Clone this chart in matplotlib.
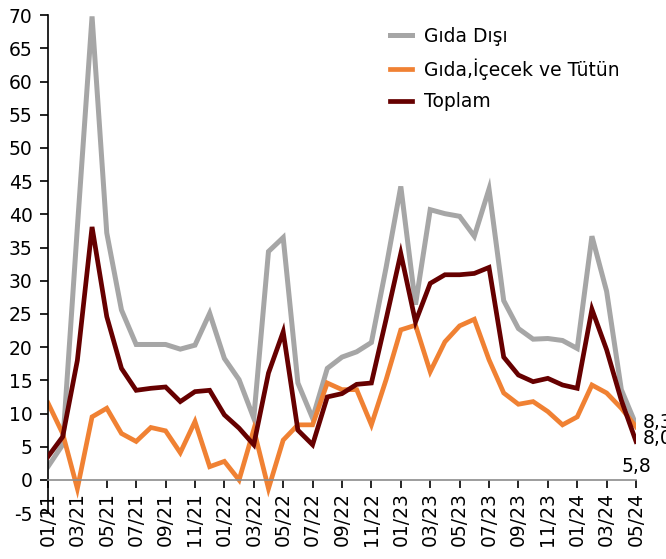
import numpy as np
import matplotlib
matplotlib.use("Agg")
import matplotlib.pyplot as plt

plt.rcParams['font.family'] = ['DejaVu Sans']
plt.rcParams['axes.unicode_minus'] = False

# aylar 01/21 - 05/24
months = [f"{m:02d}/{y}" for y in (21, 22, 23, 24) for m in range(1, 13)][:41]

gida_disi = [2.0, 5.3, 38.0, 69.8, 37.2, 25.6, 20.4, 20.4, 20.4, 19.7, 20.3, 25.1,
             18.3, 15.1, 9.3, 34.4, 36.5, 14.6, 9.3, 16.8, 18.5, 19.3, 20.7, 32.0,
             44.2, 26.4, 40.7, 40.1, 39.7, 36.7, 43.8, 27.0, 22.8, 21.2, 21.3, 21.0,
             19.8, 36.7, 28.4, 13.6, 8.3]
gida_icecek = [11.6, 7.0, -1.3, 9.5, 10.8, 7.0, 5.8, 7.9, 7.4, 4.1, 8.8, 2.0,
               2.8, 0.0, 7.6, -1.3, 6.0, 8.3, 8.3, 14.6, 13.6, 13.6, 8.3, 15.1,
               22.6, 23.3, 16.3, 20.8, 23.2, 24.2, 18.1, 13.1, 11.4, 11.8, 10.3, 8.3,
               9.5, 14.3, 13.1, 10.8, 8.0]
toplam = [3.5, 6.5, 18.0, 38.1, 24.6, 16.8, 13.5, 13.8, 14.0, 11.8, 13.3, 13.5,
          9.8, 7.8, 5.3, 16.1, 22.3, 7.5, 5.3, 12.5, 13.0, 14.4, 14.6, 24.2,
          34.1, 23.8, 29.6, 30.9, 30.9, 31.1, 32.0, 18.5, 15.8, 14.8, 15.3, 14.3,
          13.8, 25.7, 19.6, 12.0, 5.8]
end_labels = ["8,3", "8,0", "5,8"]

x = np.arange(len(months))

fig = plt.figure(figsize=(6.66, 5.59), dpi=100)
ax = fig.add_axes([0.072, 0.082, 0.883, 0.891])

ax.plot(x, gida_disi, color='#a6a6a6', lw=3.6, label='Gıda Dışı', solid_joinstyle='miter')
ax.plot(x, toplam, color='#660000', lw=3.4, label='Toplam', solid_joinstyle='miter', zorder=3)
ax.plot(x, gida_icecek, color='#f08133', lw=3.4, label='Gıda,İçecek ve Tütün',
        solid_joinstyle='miter', zorder=2.5)

ax.set_xlim(0, 40)
ax.set_ylim(-5, 70)
ax.set_yticks(np.arange(-5, 71, 5))
ax.set_xticks(x[::2])
ax.set_xticklabels(months[::2])
ax.tick_params(axis='both', labelsize=13.5, length=6, width=1.2, color='black')
ax.tick_params(axis='x', pad=3, labelrotation=90)
ax.tick_params(axis='y', pad=5)

for s in ['top', 'right']:
    ax.spines[s].set_visible(False)
ax.spines['bottom'].set_position(('data', 0))
ax.spines['bottom'].set_color('#8c8c8c')
ax.spines['bottom'].set_linewidth(1.2)
ax.spines['left'].set_linewidth(1.2)

# son değer etiketleri (sağ kenarda kesik)
ax.text(40.45, 8.6, end_labels[0], fontsize=13.5, va='center', ha='left', clip_on=False)
ax.text(40.45, 6.3, end_labels[1], fontsize=13.5, va='center', ha='left', clip_on=False)
ax.text(40.05, 2.0, end_labels[2], fontsize=13.5, va='center', ha='center', clip_on=False)

h, l = ax.get_legend_handles_labels()
order = [0, 2, 1]
ax.legend([h[i] for i in order], [l[i] for i in order], loc='upper left',
          bbox_to_anchor=(0.56, 0.982), bbox_transform=fig.transFigure,
          frameon=False, fontsize=13.5, handlelength=1.2, handletextpad=0.6,
          labelspacing=0.66)

fig.savefig('out.png', dpi=100)
